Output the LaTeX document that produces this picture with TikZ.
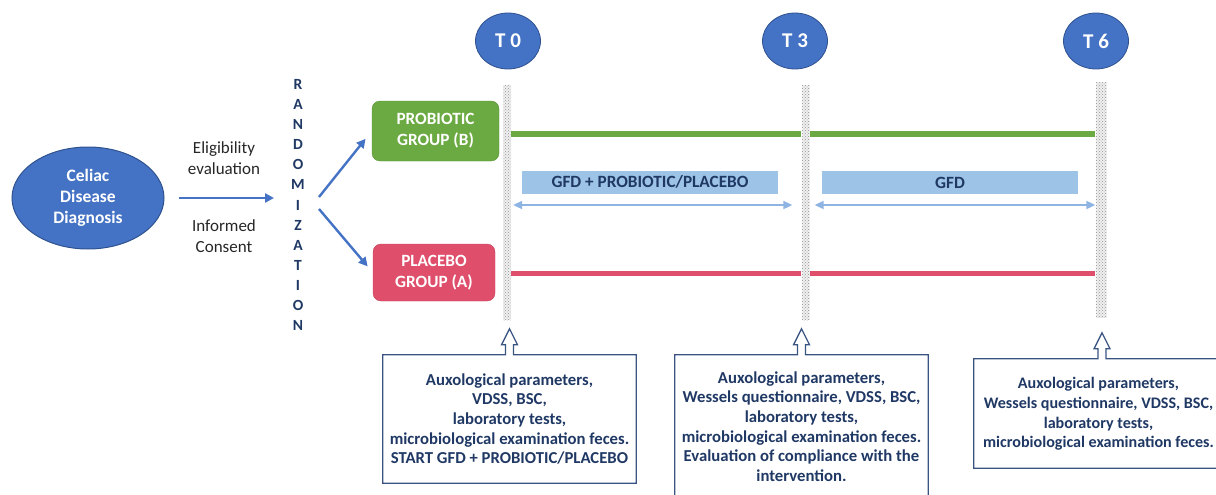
\documentclass[tikz,border=0pt]{standalone}
\usepackage{fontspec}
\setmainfont{Carlito}
\usetikzlibrary{arrows.meta,patterns,shapes.geometric}
\definecolor{cblue}{HTML}{4472C4}
\definecolor{cbluedark}{HTML}{2F528F}
\definecolor{cgreen}{HTML}{6BAA42}
\definecolor{cgreendark}{HTML}{5A9336}
\definecolor{cred}{HTML}{DF4E6B}
\definecolor{creddark}{HTML}{C8425D}
\definecolor{lblue}{HTML}{9DC3E6}
\definecolor{larrow}{HTML}{8EB4E3}
\definecolor{navy}{HTML}{1F3864}
\definecolor{boxline}{HTML}{3A5482}
\newcommand\mycallout[1]{\draw[calloutline] (#1.north west) -- ([xshift=-4pt]#1.north) -- ++(0,-10) -- ++(-4,0) -- ++(8,-16) -- ++(8,16) -- ++(-4,0) -- ++(0,10) -- (#1.north east) -- (#1.south east) -- (#1.south west) -- cycle;}
\begin{document}
\begin{tikzpicture}[x=1pt,y=-1pt,
  every node/.style={inner sep=0pt},
  bigell/.style={ellipse, fill=cblue, draw=cbluedark, line width=1pt, text=white, align=center, font=\bfseries\fontsize{17.5}{21}\selectfont},
  tell/.style={ellipse, fill=cblue, draw=cbluedark, line width=0.8pt, text=white, minimum width=65, minimum height=56, font=\bfseries\fontsize{21}{25}\selectfont},
  plain/.style={align=center, text=black!85, font=\fontsize{17}{21}\selectfont},
  grp/.style={rectangle, rounded corners=8pt, text=white, align=center, font=\bfseries\fontsize{17.2}{21}\selectfont},
  band/.style={rectangle, minimum width=8, preaction={fill=gray!12}, pattern=crosshatch dots, pattern color=gray!85},
  phase/.style={rectangle, fill=lblue, text=navy, minimum height=23, font=\bfseries\fontsize{17.2}{20}\selectfont},
  callbox/.style={rectangle, align=center, text=navy, font=\bfseries\fontsize{16.7}{19.6}\selectfont},
  calloutline/.style={draw=boxline, line width=1.3pt, fill=none, line join=miter},
  bluearrow/.style={draw=cblue, line width=2.4pt, -{Triangle[length=9pt,width=9pt]}},
  darrow/.style={draw=larrow, line width=2pt, {Triangle[length=9pt,width=8pt]}-{Triangle[length=9pt,width=8pt]}},
  gline/.style={draw=cgreen, line width=6.5pt},
  rline/.style={draw=cred, line width=5pt}
]
\useasboundingbox (0,0) rectangle (1216,495);
\clip (0,0) rectangle (1216,495);

% left part
\node[bigell, minimum width=152, minimum height=102] (cd) at (88,198) {Celiac\\Disease\\Diagnosis};
\node[plain] (elig) at (224,158) {Eligibility\\evaluation};
\node[plain] (inf) at (224,236) {Informed\\Consent};
\node[align=center, text=navy, font=\bfseries\fontsize{15.5}{20.1}\selectfont] (rnd) at (298,205) {R\\A\\N\\D\\O\\M\\I\\Z\\A\\T\\I\\O\\N};
\draw[bluearrow, shorten <=14pt, shorten >=17pt] (cd.east) -- (rnd.west |- cd.east);

% groups
\node[grp, fill=cgreen, draw=cgreendark, minimum width=127, minimum height=60] (pb) at (435.5,131) {PROBIOTIC\\GROUP (B)};
\node[grp, fill=cred, draw=creddark, minimum width=122, minimum height=57] (pl) at (434,272.5) {PLACEBO\\GROUP (A)};
\coordinate (r1) at (319,197);
\coordinate (r2) at (319,209);
\draw[bluearrow, shorten >=10pt] (r1) -- (pb.west);
\draw[bluearrow, shorten >=8pt] (r2) -- (pl.west);

% time points
\node[tell] (t0) at (508,41) {T 0};
\node[tell] (t3) at (795,41) {T 3};
\node[tell] (t6) at (1096,41) {T 6};
\node[band, minimum height=235] (b0) at (507,202.5) {};
\node[band, minimum height=235] (b3) at (805.5,202.5) {};
\node[band, minimum width=11, minimum height=235] (b6) at (1101,200) {};

% group timelines
\draw[gline] (b0.east |- 0,134) -- (b3.west |- 0,134);
\draw[gline] (b3.east |- 0,134) -- (b6.west |- 0,134);
\draw[rline] (b0.east |- 0,273) -- (b3.west |- 0,273);
\draw[rline] (b3.east |- 0,273) -- (b6.west |- 0,273);

% phases
\node[phase, minimum width=256] (ph1) at (650,182) {GFD + PROBIOTIC/PLACEBO};
\node[phase, minimum width=256] (ph2) at (950,182.5) {GFD};
\draw[darrow] ([xshift=2pt]b0.east |- 0,205) -- ([xshift=-9pt]b3.west |- 0,205);
\draw[darrow] ([xshift=5pt]b3.east |- 0,205) -- (b6.west |- 0,205);

% callouts
\node[callbox, minimum width=253, minimum height=128] (c1) at (509.5,419) {Auxological parameters,\\VDSS, BSC,\\laboratory tests,\\microbiological examination feces.\\START GFD + PROBIOTIC/PLACEBO};
\node[callbox, minimum width=253, minimum height=143] (c2) at (801.5,426.5) {Auxological parameters,\\Wessels questionnaire, VDSS, BSC,\\laboratory tests,\\microbiological examination feces.\\Evaluation of compliance with the\\intervention.};
\node[callbox, minimum width=256, minimum height=109] (c3) at (1102,413.5) {};
\node[callbox, font=\bfseries\fontsize{16.1}{19.6}\selectfont] (c3t) at (1098.5,414) {Auxological parameters,\\Wessels questionnaire, VDSS, BSC,\\laboratory tests,\\microbiological examination feces.};
\mycallout{c1}
\mycallout{c2}
\mycallout{c3}
\end{tikzpicture}
\end{document}
